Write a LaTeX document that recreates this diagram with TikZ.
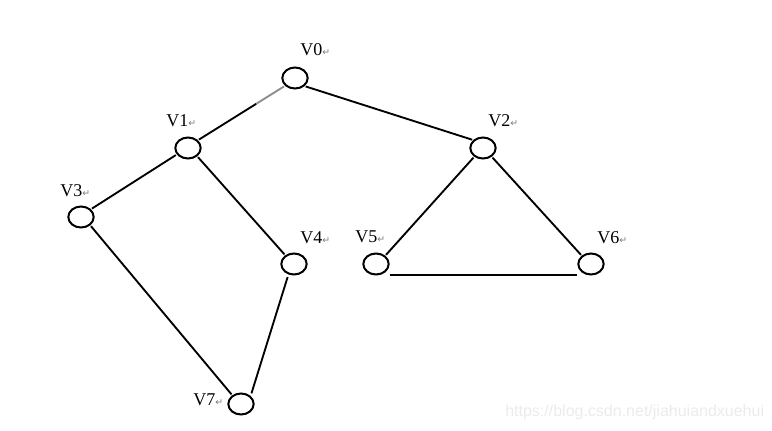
\documentclass[tikz,border=0pt]{standalone}
\usepackage{fontspec}
\setmainfont{Liberation Serif}
\newfontfamily\wmfont{Liberation Sans}
\newfontfamily\symfont{DejaVu Sans}
\usetikzlibrary{positioning,shapes.geometric}
\definecolor{cfade}{HTML}{8C8C8C}
\definecolor{cmark}{HTML}{7A7A7A}
\definecolor{cwater}{HTML}{EBEBEB}
\newcommand{\retmark}{{\symfont\fontsize{7}{7}\selectfont\textcolor{cmark}{↵}}}
\tikzset{
  vert/.style={draw, ellipse, line width=1.5pt, minimum width=19pt, minimum height=15.75pt, inner sep=0pt},
  vlbl/.style={anchor=base west, inner sep=0pt, font=\fontsize{13.5}{16}\selectfont},
  edge/.style={line width=1.4pt, shorten >=0.8pt, shorten <=0.8pt},
  fade/.style={edge, draw=cfade},
  water/.style={anchor=base west, inner sep=0pt, font=\wmfont\fontsize{12}{14}\selectfont, text=cwater},
}

\begin{document}
\begin{tikzpicture}[x=0.75pt,y=-0.75pt]
\useasboundingbox (0,0) rectangle (772,430);
\foreach \n/\x/\y in {V0/295/78, V1/188/148, V2/483/148, V3/81/217, V4/294/264, V5/376/264, V6/591/264, V7/241/404} {
  \node[vert] (\n) at (\x,\y) {};
}
\foreach \n/\x/\y in {V0/300/55, V1/166/126, V2/488/126, V3/60/196, V4/300/243, V5/355/242, V6/597/243, V7/193/405} {
  \node[vlbl] (l\n) at (\x,\y) {\n\retmark};
}
% V1 -- V0, last part faded
\path (V1.38) -- coordinate[pos=0.67] (g) (V0.-142);
\draw[edge, shorten >=0pt] (V1.38) -- (g);
\draw[fade, shorten <=0pt] (g) -- (V0.-142);
\draw[edge] (V0.-40) -- (V2.141);
\draw[edge] (V1.-150) -- (V3.38);
\draw[edge] (V1.-42) -- (V4.135);
\draw[edge] (V3.-42) -- (V7.135);
\draw[edge, shorten <=2pt, shorten >=2pt] (V4.-118) -- (V7.40);
\draw[edge] (V2.-135) -- (V5.42);
\draw[edge] (V2.-45) -- (V6.138);
\draw[edge, shorten >=0pt, shorten <=0pt] ([yshift=0.6pt]V5.south -| V5.east) -- ([yshift=0.6pt]V6.south -| V6.west);
\node[water] (wm) at (505,416) {https://blog.csdn.net/jiahuiandxuehui};
\end{tikzpicture}
\end{document}
